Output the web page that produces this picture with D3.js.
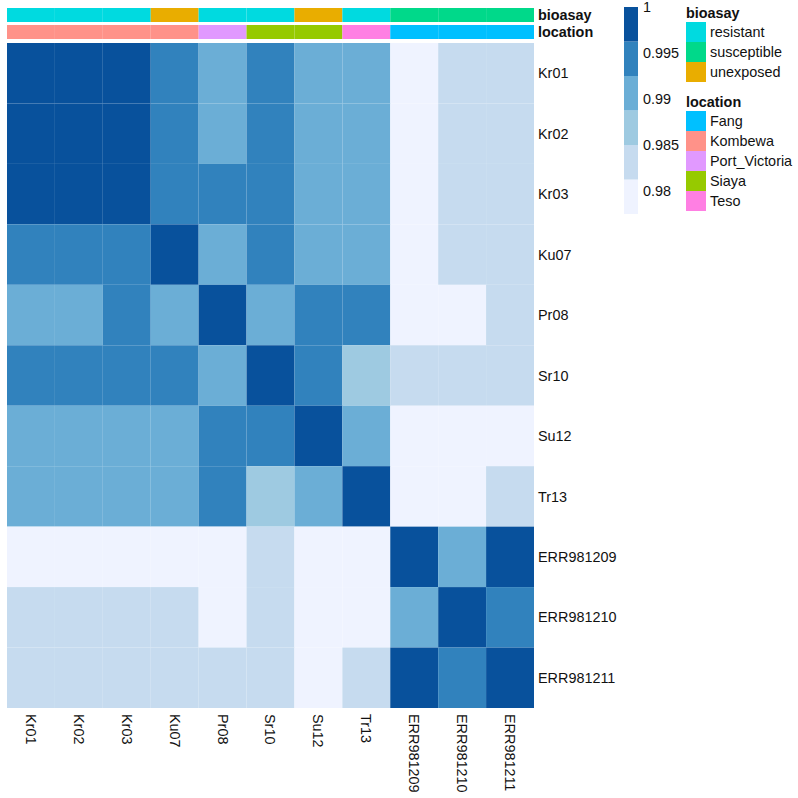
<!DOCTYPE html>
<html>
<head>
<meta charset="utf-8">
<script src="https://cdn.jsdelivr.net/npm/d3@7"></script>
<style>
  html, body { margin: 0; padding: 0; background: #fff; }
  svg { display: block; }
  text { font-family: "Liberation Sans", Arial, sans-serif; fill: #111; }
</style>
</head>
<body>
<div id="chart"></div>
<script>
// Echantillons
const samples = ['Kr01', 'Kr02', 'Kr03', 'Ku07', 'Pr08', 'Sr10', 'Su12', 'Tr13', 'ERR981209', 'ERR981210', 'ERR981211'];

// Lignes de la matrice de similarite
const rowKr01 = [1, 1, 1, 0.995, 0.991, 0.995, 0.991, 0.991, 0.98, 0.984, 0.984];
const rowKr02 = [1, 1, 1, 0.995, 0.991, 0.995, 0.991, 0.991, 0.98, 0.984, 0.984];
const rowKr03 = [1, 1, 1, 0.995, 0.995, 0.995, 0.991, 0.991, 0.98, 0.984, 0.984];
const rowKu07 = [0.995, 0.995, 0.995, 1, 0.991, 0.995, 0.991, 0.991, 0.98, 0.984, 0.984];
const rowPr08 = [0.991, 0.991, 0.995, 0.991, 1, 0.991, 0.995, 0.995, 0.98, 0.98, 0.984];
const rowSr10 = [0.995, 0.995, 0.995, 0.995, 0.991, 1, 0.995, 0.987, 0.984, 0.984, 0.984];
const rowSu12 = [0.991, 0.991, 0.991, 0.991, 0.995, 0.995, 1, 0.991, 0.98, 0.98, 0.98];
const rowTr13 = [0.991, 0.991, 0.991, 0.991, 0.995, 0.987, 0.991, 1, 0.98, 0.98, 0.984];
const rowE209 = [0.98, 0.98, 0.98, 0.98, 0.98, 0.984, 0.98, 0.98, 1, 0.991, 1];
const rowE210 = [0.984, 0.984, 0.984, 0.984, 0.98, 0.984, 0.98, 0.98, 0.991, 1, 0.995];
const rowE211 = [0.984, 0.984, 0.984, 0.984, 0.984, 0.984, 0.98, 0.984, 1, 0.995, 1];
const matrix = [rowKr01, rowKr02, rowKr03, rowKu07, rowPr08, rowSr10, rowSu12, rowTr13, rowE209, rowE210, rowE211];

// Annotations
const bioasay = ['resistant', 'resistant', 'resistant', 'unexposed', 'resistant', 'resistant', 'unexposed', 'resistant', 'susceptible', 'susceptible', 'susceptible'];
const location_ = ['Kombewa', 'Kombewa', 'Kombewa', 'Kombewa', 'Port_Victoria', 'Siaya', 'Siaya', 'Teso', 'Fang', 'Fang', 'Fang'];
const bioasayLevels = ['resistant', 'susceptible', 'unexposed'];
const bioasayColors = ['#00dae0', '#00d98a', '#e9ad00'];
const locationLevels = ['Fang', 'Kombewa', 'Port_Victoria', 'Siaya', 'Teso'];
const locationColors = ['#00c0ff', '#ff9289', '#e199ff', '#96ca00', '#ff7fe3'];

// Echelle de couleurs
const blues = ['#eff3ff', '#c6dbef', '#9ecae1', '#6baed6', '#3182bd', '#08519c'];
const colorDomain = [0.9775, 1];
const colorTicks = [1, 0.995, 0.99, 0.985, 0.98];

const fontSize = 14.4;

const svg = d3.select('#chart').append('svg').attr('width', 798).attr('height', 798);

const x = d3.scaleBand().domain(samples).range([7, 534]);
const y = d3.scaleBand().domain(samples).range([43, 708]);
const color = d3.scaleQuantize().domain(colorDomain).range(blues);
const bioasayColor = d3.scaleOrdinal().domain(bioasayLevels).range(bioasayColors);
const locationColor = d3.scaleOrdinal().domain(locationLevels).range(locationColors);

// Dessiner la heatmap
svg.append('g').selectAll('g')
    .data(matrix)
    .enter().append('g')
    .selectAll('rect')
    .data((row, i) => row.map((v, j) => ({ r: samples[i], c: samples[j], v })))
    .enter().append('rect')
    .attr('x', d => x(d.c))
    .attr('y', d => y(d.r))
    .attr('width', x.bandwidth())
    .attr('height', y.bandwidth())
    .attr('fill', d => color(d.v));

// Bandes d'annotation
function annotationRow(values, scale, top, height, label) {
    svg.append('g').selectAll('rect')
        .data(values)
        .enter().append('rect')
        .attr('x', (d, i) => x(samples[i]))
        .attr('y', top)
        .attr('width', x.bandwidth())
        .attr('height', height)
        .attr('fill', d => scale(d));
    svg.append('text')
        .attr('x', 538)
        .attr('y', top + height / 2 + 5)
        .attr('font-size', fontSize)
        .attr('font-weight', 'bold')
        .text(label);
}
annotationRow(bioasay, bioasayColor, 8, 14, 'bioasay');
annotationRow(location_, locationColor, 25, 14, 'location');

// Axe droit et axe bas
const rightAxis = svg.append('g')
    .attr('transform', 'translate(534,0.5)')
    .call(d3.axisRight(y).tickSize(0).tickPadding(4));
const bottomAxis = svg.append('g')
    .attr('transform', 'translate(0,708)')
    .call(d3.axisBottom(x).tickSize(0));
rightAxis.select('.domain').remove();
bottomAxis.select('.domain').remove();
rightAxis.selectAll('text').attr('font-size', fontSize).style('font-family', '"Liberation Sans", Arial, sans-serif');
bottomAxis.selectAll('text')
    .attr('font-size', fontSize)
    .style('font-family', '"Liberation Sans", Arial, sans-serif')
    .attr('text-anchor', 'start')
    .attr('dy', '0.35em')
    .attr('y', 0)
    .attr('transform', 'translate(0,6) rotate(90)');

// Barre de couleurs
const barY = d3.scaleLinear().domain(colorDomain).range([214, 7]);
svg.append('g').selectAll('rect')
    .data(blues)
    .enter().append('rect')
    .attr('x', 624)
    .attr('width', 14)
    .attr('y', d => barY(color.invertExtent(d)[1]))
    .attr('height', d => barY(color.invertExtent(d)[0]) - barY(color.invertExtent(d)[1]))
    .attr('fill', d => d);
svg.append('g').selectAll('text')
    .data(colorTicks)
    .enter().append('text')
    .attr('x', 643)
    .attr('y', d => barY(d) + 5)
    .attr('font-size', fontSize)
    .text(d => d);

// Legendes
function legend(title, levels, scale, titleY, top) {
    svg.append('text')
        .attr('x', 686)
        .attr('y', titleY)
        .attr('font-size', fontSize)
        .attr('font-weight', 'bold')
        .text(title);
    const g = svg.append('g').selectAll('g')
        .data(levels)
        .enter().append('g')
        .attr('transform', (d, i) => `translate(686,${top + i * 20})`);
    g.append('rect')
        .attr('width', 20)
        .attr('height', 20)
        .attr('fill', d => scale(d));
    g.append('text')
        .attr('x', 24)
        .attr('y', 15)
        .attr('font-size', fontSize)
        .text(d => d);
}
legend('bioasay', bioasayLevels, bioasayColor, 18, 22);
legend('location', locationLevels, locationColor, 107, 111);
</script>
</body>
</html>
